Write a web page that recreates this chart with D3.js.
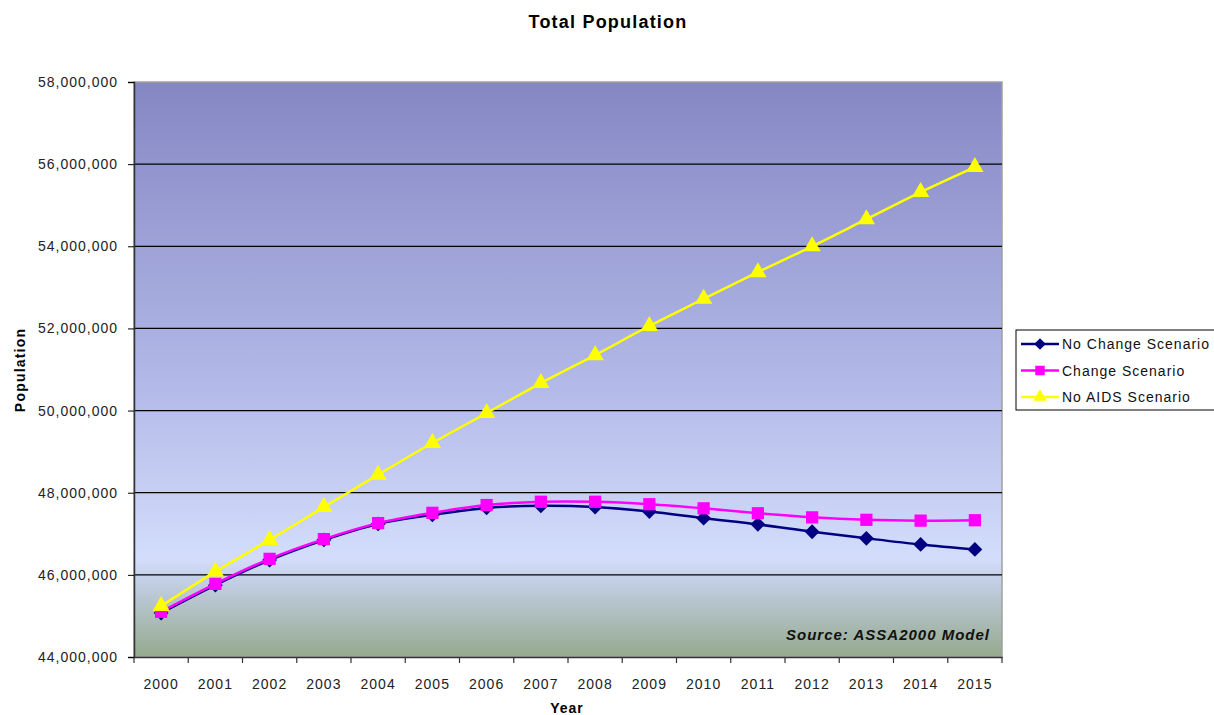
<!DOCTYPE html>
<html><head><meta charset="utf-8">
<script src="https://cdn.jsdelivr.net/npm/d3@7"></script>
<style>body{margin:0;background:#fff;} text{font-family:Arial,"Liberation Sans",sans-serif;}</style>
</head><body>
<svg id="c" width="1214" height="715"></svg>
<script>
const years = ["2000","2001","2002","2003","2004","2005","2006","2007","2008","2009","2010","2011","2012","2013","2014","2015"];
const noChange = [45070000,45750000,46360000,46850000,47240000,47460000,47630000,47680000,47650000,47540000,47380000,47230000,47050000,46890000,46740000,46620000];
const change   = [45100000,45780000,46390000,46870000,47260000,47510000,47700000,47780000,47780000,47720000,47620000,47500000,47400000,47340000,47320000,47330000];
const noAids   = [45240000,46080000,46850000,47650000,48440000,49210000,49940000,50670000,51350000,52060000,52720000,53370000,54000000,54660000,55320000,55930000];
const yTicks = [44000000,46000000,48000000,50000000,52000000,54000000,56000000,58000000];
const seriesNames = ["No Change Scenario","Change Scenario","No AIDS Scenario"];

const svg = d3.select("#c");
const L=134, R=1002, T=82, B=657;
const x = d3.scaleBand().domain(years).range([L,R]);
const y = d3.scaleLinear().domain([44000000,58000000]).range([B,T]);

const defs = svg.append("defs");
const g = defs.append("linearGradient").attr("id","bg").attr("x1",0).attr("y1",0).attr("x2",0).attr("y2",1);
[[0,"#8587c3"],[0.5,"#b0b6e6"],[0.83,"#d3ddfb"],[0.86,"#c6d1ea"],[1,"#95a98e"]].forEach(s=>g.append("stop").attr("offset",s[0]).attr("stop-color",s[1]));

svg.append("rect").attr("x",L).attr("y",T).attr("width",R-L).attr("height",B-T).attr("fill","url(#bg)").attr("stroke","#a0a0a0").attr("stroke-width",1.5);

// grid
svg.append("g").selectAll("line").data(yTicks.slice(1,-1)).join("line")
  .attr("x1",L).attr("x2",R).attr("y1",d=>y(d)).attr("y2",d=>y(d)).attr("stroke","#000").attr("stroke-width",1.2);

// axes
const ya = svg.append("g").attr("transform",`translate(${L},0)`).call(d3.axisLeft(y).tickValues(yTicks).tickSize(6).tickPadding(10).tickFormat(d3.format(",")));
ya.select(".domain").attr("stroke","#333").attr("stroke-width",1.5);
ya.selectAll("text").attr("font-size",14).attr("letter-spacing",1).attr("fill","#222");
const xa = svg.append("g").attr("transform",`translate(0,${B})`).call(d3.axisBottom(x).tickSize(0).tickPadding(22));
xa.select(".domain").attr("stroke","#333").attr("stroke-width",1.5);
xa.selectAll("text").attr("font-size",14).attr("letter-spacing",1).attr("fill","#222");
svg.append("g").selectAll("line").data(years.concat(["end"])).join("line")
  .attr("x1",(d,i)=>L+i*x.step()).attr("x2",(d,i)=>L+i*x.step()).attr("y1",B).attr("y2",B+6).attr("stroke","#333").attr("stroke-width",1.2);

// titles
svg.append("text").attr("x",608).attr("y",28).attr("text-anchor","middle").attr("font-size",18).attr("letter-spacing",1.2).attr("font-weight","bold").text("Total Population");
svg.append("text").attr("transform","translate(25,370) rotate(-90)").attr("text-anchor","middle").attr("font-size",14).attr("letter-spacing",1.2).attr("font-weight","bold").text("Population");
svg.append("text").attr("x",567).attr("y",713).attr("text-anchor","middle").attr("font-size",14).attr("letter-spacing",1).attr("font-weight","bold").text("Year");
svg.append("text").attr("x",990).attr("y",640).attr("text-anchor","end").attr("font-size",15).attr("letter-spacing",1).attr("font-weight","bold").attr("font-style","italic").attr("fill","#111").text("Source: ASSA2000 Model");

const cx = d=>x(d)+x.bandwidth()/2;
const line = d3.line().curve(d3.curveCatmullRom.alpha(0.5)).x((d,i)=>cx(years[i])).y(d=>y(d));
const series = [
  {name:seriesNames[0], data:noChange, color:"#000080", sym:d3.symbolDiamond2, size:140},
  {name:seriesNames[1], data:change, color:"#ff00ff", sym:d3.symbolSquare, size:150},
  {name:seriesNames[2], data:noAids, color:"#ffff00", sym:d3.symbolTriangle, size:130}
];
series.forEach(s=>{
  svg.append("path").attr("d",line(s.data)).attr("fill","none").attr("stroke",s.color).attr("stroke-width",2.5);
  svg.append("g").selectAll("path").data(s.data).join("path")
    .attr("transform",(d,i)=>`translate(${cx(years[i])},${y(d)})`)
    .attr("d",d3.symbol().type(s.sym).size(s.size)).attr("fill",s.color);
});

// legend
const lg = svg.append("g");
lg.append("rect").attr("x",1016).attr("y",330).attr("width",210).attr("height",80).attr("fill","#fff").attr("stroke","#000").attr("stroke-width",1);
series.forEach((s,i)=>{
  const yy = 344+i*26.5;
  lg.append("line").attr("x1",1021).attr("x2",1059).attr("y1",yy).attr("y2",yy).attr("stroke",s.color).attr("stroke-width",2.5);
  lg.append("path").attr("transform",`translate(1040,${yy})`).attr("d",d3.symbol().type(s.sym).size(s.size*0.6)).attr("fill",s.color);
  lg.append("text").attr("x",1062).attr("y",yy+5).attr("font-size",14).attr("letter-spacing",1).attr("fill","#111").text(s.name);
});
</script>
</body></html>
